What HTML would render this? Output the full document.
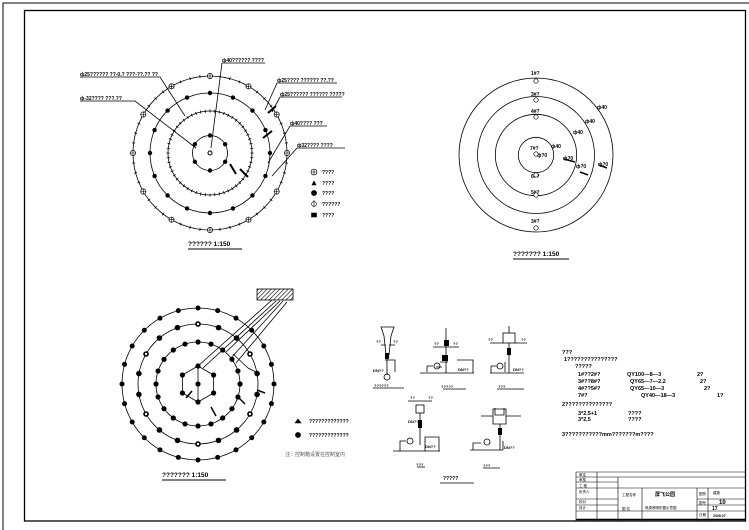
<!DOCTYPE html>
<html><head><meta charset="utf-8">
<style>
html,body{margin:0;padding:0;background:#fff;}
svg{display:block;}
text{font-family:"Liberation Sans","Noto Sans CJK SC",sans-serif;fill:#000;}
.b{font-weight:bold;font-size:5px;}
.t{font-size:6.5px;font-weight:bold;}
.c{font-size:5px;fill:#555;}
</style></head>
<body>
<svg id="s" width="749" height="530" viewBox="0 0 749 530" xmlns="http://www.w3.org/2000/svg">
<defs>
<pattern id="h" width="3" height="3" patternUnits="userSpaceOnUse" patternTransform="rotate(45)"><line x1="0" y1="0" x2="0" y2="3" stroke="#000" stroke-width="1.2"/></pattern>
</defs>
<rect x="0" y="0" width="749" height="530" fill="#fff"/>
<!-- frames -->
<path d="M3,530 V3 H749" fill="none" stroke="#000" stroke-width="1"/>
<rect x="24.5" y="10.5" width="721" height="510.5" fill="none" stroke="#000" stroke-width="1.3"/>

<g id="g1" fill="none" stroke="#000" stroke-width="0.8">
<circle cx="210" cy="153" r="77"/>
<circle cx="210" cy="153" r="60"/>
<circle cx="210" cy="153" r="42"/>
<circle cx="210" cy="153" r="17.5"/>
<!-- leaders -->
<path d="M80,101 H135 L196,148"/>
<path d="M80,77 H160 L185,116"/>
<path d="M222,63 H265 M222,63 L211,148"/>
<path d="M277,83 H337 M277,83 L265,110"/>
<path d="M280,97 H342 M280,97 L272,112"/>
<path d="M290,126 H327 M290,126 L268,163"/>
<path d="M297,148 H345 M297,148 L272,176"/>
</g>
<g id="g2" fill="none" stroke="#000" stroke-width="0.8">
<circle cx="536" cy="155" r="77"/>
<circle cx="536" cy="155" r="58.5"/>
<circle cx="536" cy="155" r="40.7"/>
<circle cx="536" cy="155" r="17.7"/>
</g>
<g id="g3" fill="none" stroke="#000" stroke-width="0.8">
<circle cx="198" cy="384" r="76"/>
<circle cx="198" cy="384" r="60"/>
<circle cx="198" cy="384" r="42"/>
<polygon points="198,366 213.6,375 213.6,393 198,402 182.4,393 182.4,375"/>
<line x1="198" y1="366" x2="198" y2="402"/>
<rect x="257" y="289" width="36" height="11" fill="url(#h)"/>
<path d="M198,366 L272,300 M203,368 L276,301 M226,352 L280,301 M231,358 L283,301 M236,363 L287,302"/>
<path d="M233,354 L248,368 M248,368 L258,373"/>
</g>

<!-- top-left texts -->
<g class="b">
<text x="80" y="76">ф25?????? ??-0.? ???-??.?? ??</text>
<text x="80" y="100">ф-32???? ???.??</text>
<text x="222" y="62">ф40?????? ????</text>
<text x="277" y="82">ф25???? ?????? ??.??</text>
<text x="280" y="96">ф25?????? ?????? ?????</text>
<text x="290" y="125">ф40???? ???</text>
<text x="297" y="147">ф32???? ????</text>
<text x="322" y="174">????</text>
<text x="322" y="185">????</text>
<text x="322" y="195">????</text>
<text x="322" y="206">??????</text>
<text x="322" y="217">????</text>
<text x="309" y="423">?????????????</text>
<text x="309" y="437">?????????????</text>
</g>
<g fill="#000" stroke="#000" stroke-width="0.6">
<circle cx="314" cy="172" r="3" fill="none"/><path d="M311,172H317M314,169V175"/>
<polygon points="314,181 312,185 316,185"/>
<circle cx="314" cy="193" r="2.6"/>
<circle cx="314" cy="204" r="2.4" fill="none"/><path d="M314,200V207"/>
<rect x="311.5" y="213" width="5" height="4"/>
<polygon points="295,423 298,419 301,423"/>
<circle cx="298" cy="435" r="2.6"/>
</g>
<text x="285" y="456" class="c">注：控制箱设置在控制室内</text>

<!-- scale labels -->
<text x="188" y="246" class="t">?????? 1:150</text><line x1="188" y1="249" x2="242" y2="249" stroke="#000" stroke-width="1"/>
<text x="513" y="256" class="t">??????? 1:150</text><line x1="513" y1="259" x2="569" y2="259" stroke="#000" stroke-width="1"/>
<text x="162" y="477" class="t">??????? 1:150</text><line x1="162" y1="480" x2="226" y2="480" stroke="#000" stroke-width="1"/>
<text x="443" y="480" class="b">?????</text><line x1="440" y1="483" x2="474" y2="483" stroke="#000" stroke-width="0.8"/>

<!-- top-right labels -->
<g class="b">
<text x="531" y="75">1#?</text><text x="531" y="96">3#?</text><text x="531" y="113">4#?</text>
<text x="530" y="150">7#?</text><text x="531" y="178">6#?</text><text x="531" y="194">5#?</text><text x="531" y="223">3#?</text>
<text x="597" y="109">ф40</text><text x="585" y="123">ф40</text><text x="573" y="134">ф40</text><text x="551" y="148">ф40</text>
<text x="537" y="157">ф?0</text><text x="563" y="160">ф?0</text><text x="576" y="168">ф?0</text><text x="598" y="166">ф?0</text>
</g>

<!-- detail drawings -->
<g fill="none" stroke="#000" stroke-width="0.8">
<path d="M381,327 H394 L391,336 L389,355 H386 L384,336 Z"/>
<path d="M387,355 V375 M381,345 H386 M389,345 H395 M385,360 H395 V372"/>
<circle cx="387" cy="377" r="3"/>
<line x1="373" y1="388" x2="404" y2="388"/>
<path d="M420,373 H474 M446,328 V373 M433,347 H459 M427,372 V366 H433 M436,367 h6 M457,360 H473 V373 M440,362 h8"/>
<circle cx="437" cy="366" r="3"/>
<line x1="443" y1="389" x2="466" y2="389"/>
<rect x="503" y="333" width="12" height="10"/>
<path d="M509,326 V333 M509,343 V373 M490,343 H503 M515,343 H527 M490,373 H524 M491,373 V366 H497 M505,372 V362"/>
<circle cx="500" cy="366" r="3"/>
<line x1="497" y1="389" x2="524" y2="389"/>
<rect x="416" y="405" width="8" height="8"/>
<path d="M420,413 V445 M408,401 H432 M393,451 H440 M400,451 V441 H406 M425,451 V437 H439 V451"/>
<circle cx="410" cy="441" r="3"/>
<line x1="417" y1="467" x2="425" y2="467"/>
<path d="M495,408 V415 H504 V408 M493,409 H506 V424 H493 Z"/>
<path d="M500,424 V450 M481,416 H493 M506,416 H521 M470,450 H503 M473,450 V443 H481 M503,450 V441"/>
<circle cx="487" cy="442" r="3"/>
<line x1="483" y1="468" x2="500" y2="468"/>
</g>
<g fill="#000">
<rect x="385" y="353" width="4" height="6"/><rect x="444" y="340" width="5" height="6"/><rect x="442" y="355" width="6" height="6"/>
<rect x="507" y="348" width="4" height="7"/><rect x="418" y="420" width="4" height="8"/><rect x="498" y="428" width="4" height="7"/>
</g>
<g class="b" style="font-size:4px">
<text x="373" y="372">DN??</text><text x="374" y="387">??????</text><text x="441" y="388">?????</text><text x="498" y="388">???</text>
<text x="458" y="371">DN??</text><text x="513" y="371">DN??</text><text x="408" y="423">DN??</text><text x="425" y="448">DN??</text>
<text x="504" y="449">DN??</text><text x="416" y="466">???</text><text x="483" y="467">???</text>
<text x="376" y="343">??</text><text x="393" y="343">??</text><text x="434" y="345">??</text><text x="453" y="345">??</text>
<text x="488" y="341">??</text><text x="521" y="341">??</text><text x="410" y="399">??</text><text x="428" y="399">??</text>
</g>

<!-- notes -->
<g class="b" style="font-size:5.5px">
<text x="562" y="354">???</text>
<text x="564" y="361">1???????????????</text>
<text x="575" y="368">?????</text>
<text x="578" y="376">1#??2#?</text><text x="627" y="376">QY100—8—3</text><text x="697" y="376">2?</text>
<text x="578" y="383">3#??8#?</text><text x="630" y="383">QY65—7—2.2</text><text x="700" y="383">2?</text>
<text x="578" y="390">4#??5#?</text><text x="630" y="390">QY65—10—3</text><text x="704" y="390">2?</text>
<text x="578" y="397">7#?</text><text x="641" y="397">QY40—18—3</text><text x="717" y="397">1?</text>
<text x="562" y="406">2??????????????</text>
<text x="578" y="415">3*2.5+1</text><text x="628" y="415">????</text>
<text x="578" y="421">3*2.5</text><text x="628" y="421">????</text>
<text x="562" y="436">3???????????mm???????m????</text>
</g>

<!-- title block -->
<g fill="none" stroke="#000" stroke-width="0.6">
<path d="M576,472 H746 M576,472 V521 M576,477 H746 M576,482 H618 M576,488 H746 M576,499 H618 M576,505 H618 M576,511 H746"/>
<path d="M597,472 V521 M618,477 V521 M642,488 V521 M697,488 V521 M708,488 V521 M697,499 H746 M697,505 H746"/>
</g>
<line x1="576" y1="519.5" x2="746" y2="519.5" stroke="#000" stroke-width="1.5"/>
<g class="c" style="font-size:3.5px">
<text x="579" y="476">审定</text><text x="579" y="481">审核</text><text x="579" y="487">工 程</text><text x="579" y="493">负责人</text>
<text x="579" y="503">校对</text><text x="579" y="509">设计</text><text x="622" y="496">工程名称</text><text x="622" y="510">图 名</text>
<text x="645" y="509">喷泉喷嘴布置示意图</text><text x="699" y="495">图别</text><text x="699" y="504">图号</text><text x="699" y="516">日期</text>
<text x="713" y="494">建施</text>
</g>
<text x="655" y="496" style="font-size:5px;font-weight:bold">屏飞公园</text>
<text x="719" y="504" style="font-size:6px;font-weight:bold">10</text>
<text x="712" y="510" style="font-size:5px;font-weight:bold">17</text>
<text x="713" y="517" style="font-size:3.5px;font-weight:bold">2008.07</text>

<g id="dots"></g>
</svg>
<script>
var g=document.getElementById('dots'),NS='http://www.w3.org/2000/svg';
function el(t,a){var e=document.createElementNS(NS,t);for(var k in a)e.setAttribute(k,a[k]);g.appendChild(e);return e;}
function ring(cx,cy,r,n,f,off){for(var i=0;i<n;i++){var a=(i/n)*2*Math.PI+(off||0);f(cx+r*Math.sin(a),cy-r*Math.cos(a),a);}}
function dot(r){return function(x,y){el('circle',{cx:x,cy:y,r:r,fill:'#000'});};}
function tick(cx,cy){return function(x,y,a){var dx=Math.sin(a)*1.5,dy=-Math.cos(a)*1.5;el('line',{x1:x-dx,y1:y-dy,x2:x+dx,y2:y+dy,stroke:'#000','stroke-width':0.8});};}
function cross(x,y){el('circle',{cx:x,cy:y,r:2.6,fill:'#fff',stroke:'#000','stroke-width':0.7});el('path',{d:'M'+(x-2.6)+','+y+'h5.2M'+x+','+(y-2.6)+'v5.2',stroke:'#000','stroke-width':0.6});}
// plan 1
ring(210,153,77,48,tick(210,153));
ring(210,153,77,12,function(x,y){cross(x,y);});
ring(210,153,60,16,dot(2.2));
ring(210,153,42,56,tick(210,153));
ring(210,153,17.5,6,dot(2.2));
el('circle',{cx:210,cy:153,r:2,fill:'none',stroke:'#000'});
[[230,164,236,174],[263,138,272,131],[268,113,276,106],[240,169,248,177]].forEach(function(p){el('line',{x1:p[0],y1:p[1],x2:p[2],y2:p[3],stroke:'#000','stroke-width':2});});
// plan 2 symbols
[[536,81],[536,100],[536,117],[536,154],[536,175],[536,195],[536,228]].forEach(function(p){el('circle',{cx:p[0],cy:p[1],r:2.2,fill:'#fff',stroke:'#000','stroke-width':0.7});});
[[564,159,575,162],[580,172,588,175],[599,165,607,168]].forEach(function(p){el('line',{x1:p[0],y1:p[1],x2:p[2],y2:p[3],stroke:'#000','stroke-width':1.5});});
// plan 3
ring(198,384,76,24,dot(2.5));
ring(198,384,60,18,dot(2.8));
ring(198,384,42,20,dot(2.6));
ring(198,384,18,6,dot(2.6));
el('circle',{cx:198,cy:384,r:2.6,fill:'#000'});
ring(198,384,60,6,function(x,y){el('circle',{cx:x,cy:y,r:1.2,fill:'#fff'});});
[[186,398,192,391],[211,407,216,416],[238,397,245,404],[257,390,265,393]].forEach(function(p){el('line',{x1:p[0],y1:p[1],x2:p[2],y2:p[3],stroke:'#000','stroke-width':1.5});});
</script>
</body></html>
